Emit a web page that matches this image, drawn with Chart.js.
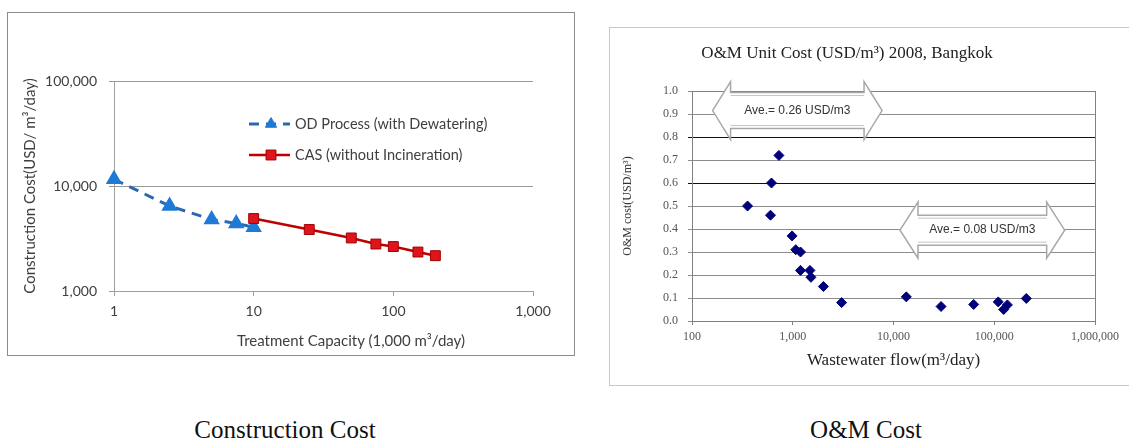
<!DOCTYPE html>
<html>
<head>
<meta charset="utf-8">
<title>Construction Cost / O&amp;M Cost</title>
<script src="https://cdn.jsdelivr.net/npm/chart.js@4.4.1/dist/chart.umd.min.js"></script>
<style>
body{margin:0;width:1129px;height:438px;background:#fff;position:relative;overflow:hidden}
.frame{position:absolute;box-sizing:border-box}
#leftFrame{left:7px;top:12px;width:568px;height:344px;border:1px solid #8c8c8c}
#rightFrame{left:609px;top:27px;width:530px;height:359px;border:1px solid #c8c8c8}
canvas{position:absolute}
#capCanvas{left:7px;top:12px}
#omCanvas{left:609px;top:27px}
.txt{position:absolute;white-space:nowrap;text-align:center}
#capXTitle{left:151px;width:400px;top:331px;line-height:18px;font:15px Lato,sans-serif;color:#404040}
#omTitle{left:647px;width:400px;top:43px;line-height:20px;font:17px "Liberation Serif",serif;color:#222}
.caption{top:416px;line-height:25px;font:25px "Liberation Serif",serif;color:#111;width:400px}
#cap1{left:85px}
#cap2{left:666px}
</style>
</head>
<body>
<div class="frame" id="leftFrame"></div>
<div class="frame" id="rightFrame"></div>
<canvas id="capCanvas" width="567" height="343"></canvas>
<canvas id="omCanvas" width="520" height="358"></canvas>
<div class="txt" id="capXTitle">Treatment Capacity (1,000 m³/day)</div>
<div class="txt" id="omTitle">O&amp;M Unit Cost (USD/m³) 2008, Bangkok</div>
<div class="txt caption" id="cap1">Construction Cost</div>
<div class="txt caption" id="cap2">O&amp;M Cost</div>
<script>
// ======================================
// DATA - construction cost
// ======================================

const capTicks = [1, 10, 100, 1000];
const costTicks = [1000, 10000, 100000];

const odCapacity = [1, 2.5, 5, 7.5, 10];
const odCost = [11600, 6450, 4800, 4400, 4050];

const casCapacity = [10, 25, 50, 75, 100, 150, 200];
const casCost = [4900, 3850, 3200, 2800, 2650, 2350, 2170];

// ======================================
// DATA - O&M cost
// ======================================

const flowTicks = [100, 1000, 10000, 100000, 1000000];
const omTicks = [0, 0.1, 0.2, 0.3, 0.4, 0.5, 0.6, 0.7, 0.8, 0.9, 1.0];

const plantFlow = [356, 601, 615, 729, 985, 1071, 1194, 1194, 1481, 1516,
  2015, 3054, 13400, 29650, 62500, 109600, 124000, 135000, 208000];
const plantCost = [0.50, 0.46, 0.60, 0.72, 0.37, 0.31, 0.30, 0.22, 0.22, 0.19,
  0.15, 0.08, 0.105, 0.063, 0.072, 0.083, 0.050, 0.070, 0.098];

const aveCost = [0.26, 0.08];
const aveFlowFrom = [160, 11600];
const aveFlowTo = [7700, 500000];

// ======================================
// HELPERS
// ======================================

const pts = (xs, ys) => xs.map((x, i) => ({x: x, y: ys[i]}));
const fixTicks = list => scale => { scale.ticks = list.map(v => ({value: v})); };
const fmt = v => Number(v).toLocaleString("en-US");

const SANS = "Lato, sans-serif";
const SERIF = "'Liberation Serif', serif";

// legend drawn inside the plot, like the original
const capLegend = {
  id: "capLegend",
  afterDraw(chart) {
    const ctx = chart.ctx;
    const rowY = [112, 143];
    chart.data.datasets.forEach((ds, i) => {
      const y = rowY[i];
      ctx.save();
      ctx.strokeStyle = ds.borderColor;
      ctx.lineWidth = ds.borderWidth;
      ctx.setLineDash(ds.borderDash || []);
      ctx.beginPath();
      ctx.moveTo(242, y);
      ctx.lineTo(283, y);
      ctx.stroke();
      ctx.setLineDash([]);
      ctx.fillStyle = ds.pointBackgroundColor;
      ctx.strokeStyle = ds.pointBorderColor;
      ctx.lineWidth = 1;
      Chart.helpers.drawPoint(ctx, {pointStyle: ds.pointStyle, radius: ds.pointRadius, rotation: 0, borderWidth: 1}, 264, y);
      ctx.fillStyle = "#404040";
      ctx.font = "14.5px " + SANS;
      ctx.textBaseline = "middle";
      ctx.fillText(ds.label, 288, y);
      ctx.restore();
    });
  }
};

// plot border + the two "average" block arrows
const omDecor = {
  id: "omDecor",
  beforeDatasetsDraw(chart) {
    const ctx = chart.ctx;
    const a = chart.chartArea;
    const xs = chart.scales.x, ys = chart.scales.y;
    ctx.save();
    ctx.strokeStyle = "#808080";
    ctx.lineWidth = 1;
    ctx.strokeRect(a.left + 0.5, a.top + 0.5, a.right - a.left, a.bottom - a.top);

    const yc = [0.915, 0.395];
    const headH = [29, 28];
    const bodyH = [18, 15];
    const headL = 18;
    aveCost.forEach((c, i) => {
      const x1 = xs.getPixelForValue(aveFlowFrom[i]);
      const x2 = xs.getPixelForValue(aveFlowTo[i]);
      const y = ys.getPixelForValue(yc[i]);
      ctx.beginPath();
      ctx.moveTo(x1, y);
      ctx.lineTo(x1 + headL, y - headH[i]);
      ctx.lineTo(x1 + headL, y - bodyH[i]);
      ctx.lineTo(x2 - headL, y - bodyH[i]);
      ctx.lineTo(x2 - headL, y - headH[i]);
      ctx.lineTo(x2, y);
      ctx.lineTo(x2 - headL, y + headH[i]);
      ctx.lineTo(x2 - headL, y + bodyH[i]);
      ctx.lineTo(x1 + headL, y + bodyH[i]);
      ctx.lineTo(x1 + headL, y + headH[i]);
      ctx.closePath();
      ctx.fillStyle = "#fff";
      ctx.fill();
      ctx.strokeStyle = "#a8a8a8";
      ctx.lineWidth = 1.5;
      ctx.stroke();
      ctx.strokeStyle = "#c4c4c4";
      ctx.lineWidth = 1;
      ctx.beginPath();
      ctx.moveTo(x1 + headL, y - bodyH[i] + 3);
      ctx.lineTo(x2 - headL, y - bodyH[i] + 3);
      ctx.moveTo(x1 + headL, y + bodyH[i] - 3);
      ctx.lineTo(x2 - headL, y + bodyH[i] - 3);
      ctx.stroke();
      const xm = xs.getPixelForValue(Math.sqrt(aveFlowFrom[i] * aveFlowTo[i]));
      ctx.fillStyle = "#333";
      ctx.font = "12px 'Liberation Sans', sans-serif";
      ctx.textAlign = "center";
      ctx.textBaseline = "middle";
      ctx.fillText("Ave.= " + c.toFixed(2) + " USD/m3", xm, y);
    });
    ctx.restore();
  }
};

// ======================================
// CONSTRUCTION COST CHART
// ======================================

new Chart(document.getElementById("capCanvas"), {
  type: "scatter",
  data: {
    datasets: [
      {
        label: "OD Process (with Dewatering)",
        data: pts(odCapacity, odCost),
        showLine: true,
        borderColor: "#2a69b0",
        borderWidth: 3,
        borderDash: [10, 7],
        pointStyle: "triangle",
        pointRadius: 6.5,
        pointBackgroundColor: "#1f7ad6",
        pointBorderColor: "#1f7ad6",
        order: 1,
        clip: false
      },
      {
        label: "CAS (without Incineration)",
        data: pts(casCapacity, casCost),
        showLine: true,
        borderColor: "#c00000",
        borderWidth: 2.5,
        pointStyle: "rect",
        pointRadius: 7,
        pointBackgroundColor: "#e0141c",
        pointBorderColor: "#a00000",
        pointBorderWidth: 1,
        order: 0,
        clip: false
      }
    ]
  },
  options: {
    responsive: false,
    animation: false,
    devicePixelRatio: 1,
    layout: {padding: {left: 10, top: 69, right: 41, bottom: 0}},
    plugins: {legend: {display: false}, tooltip: {enabled: false}},
    scales: {
      x: {
        type: "logarithmic",
        min: 1,
        max: 1000,
        afterBuildTicks: fixTicks(capTicks),
        afterFit: s => { s.height = 64; },
        grid: {drawOnChartArea: false, tickLength: 5, color: "#a0a0a0"},
        border: {color: "#a0a0a0"},
        ticks: {padding: 7, color: "#404040", font: {family: SANS, size: 14}, maxRotation: 0, autoSkip: false, callback: fmt}
      },
      y: {
        type: "logarithmic",
        min: 1000,
        max: 100000,
        afterBuildTicks: fixTicks(costTicks),
        afterFit: s => { s.width = 97; },
        grid: {tickLength: 5, color: "#999"},
        border: {color: "#a0a0a0"},
        ticks: {padding: 12, color: "#404040", font: {family: SANS, size: 14}, callback: fmt},
        title: {display: true, text: "Construction Cost(USD/ m³/day)", color: "#404040", font: {family: SANS, size: 15}, padding: {top: 4, bottom: 0}}
      }
    }
  },
  plugins: [capLegend]
});

// ======================================
// O&M COST CHART
// ======================================

new Chart(document.getElementById("omCanvas"), {
  type: "scatter",
  data: {
    datasets: [{
      label: "O&M Unit Cost",
      data: pts(plantFlow, plantCost),
      pointStyle: "rectRot",
      pointRadius: 5,
      pointBackgroundColor: "#00007a",
      pointBorderColor: "#00007a",
      clip: false
    }]
  },
  options: {
    responsive: false,
    animation: false,
    devicePixelRatio: 1,
    layout: {padding: {left: 12, top: 64, right: 34, bottom: 0}},
    plugins: {legend: {display: false}, tooltip: {enabled: false}},
    scales: {
      x: {
        type: "logarithmic",
        min: 100,
        max: 1000000,
        afterBuildTicks: fixTicks(flowTicks),
        afterFit: s => { s.height = 64; },
        grid: {drawOnChartArea: false, tickLength: 4, color: "#808080"},
        border: {color: "#808080"},
        ticks: {padding: 5, color: "#555", font: {family: SERIF, size: 12}, maxRotation: 0, autoSkip: false, callback: fmt},
        title: {display: true, text: "Wastewater flow(m³/day)", color: "#222", font: {family: SERIF, size: 17}, padding: {top: 0, bottom: 14}}
      },
      y: {
        min: 0,
        max: 1,
        afterBuildTicks: fixTicks(omTicks),
        afterFit: s => { s.width = 71; },
        grid: {
          tickLength: 4,
          color: c => (c.tick && (Math.abs(c.tick.value - 0.6) < 1e-6 || Math.abs(c.tick.value - 0.8) < 1e-6)) ? "#111" : "#8c8c8c"
        },
        border: {color: "#808080"},
        ticks: {padding: 10, color: "#555", font: {family: SERIF, size: 12}, callback: v => Number(v).toFixed(1)},
        title: {display: true, text: "O&M cost(USD/m³)", color: "#333", font: {family: SERIF, size: 12}, padding: {top: 0, bottom: 0}}
      }
    }
  },
  plugins: [omDecor]
});
</script>
</body>
</html>
